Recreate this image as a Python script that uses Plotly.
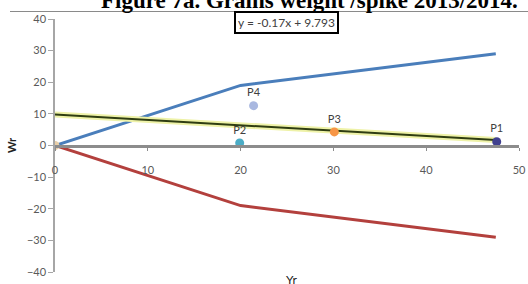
import plotly.graph_objects as go

# Data
blue_x = [0, 20, 47.5]
blue_y = [0, 19, 29]
red_x = [0, 20, 47.5]
red_y = [0, -19, -29]
trend_slope = -0.17
trend_intercept = 9.793
trend_x = [0, 47.5]
point_names = ["P1", "P2", "P3", "P4"]
point_x = [47.6, 19.9, 30.1, 21.4]
point_y = [1.2, 0.8, 4.3, 12.6]
point_colors = ["#40408f", "#4bacc6", "#f79646", "#a9b8e0"]
x_ticks = [0, 10, 20, 30, 40, 50]
y_ticks = [-40, -30, -20, -10, 0, 10, 20, 30, 40]

trend_y = [trend_slope * x + trend_intercept for x in trend_x]

fig = go.Figure()
fig.add_trace(go.Scatter(x=blue_x, y=blue_y, mode="lines",
                         line=dict(color="#4a7ebb", width=3), showlegend=False))
fig.add_trace(go.Scatter(x=red_x, y=red_y, mode="lines",
                         line=dict(color="#b3403d", width=3), showlegend=False))
fig.add_trace(go.Scatter(x=trend_x, y=trend_y, mode="lines",
                         line=dict(color="#eef2a8", width=6), showlegend=False))
fig.add_trace(go.Scatter(x=trend_x, y=trend_y, mode="lines",
                         line=dict(color="#2f3d12", width=2), showlegend=False))
fig.add_trace(go.Scatter(x=[0], y=[0], mode="markers",
                         marker=dict(color="#e9cfa8", size=9), showlegend=False))
fig.add_trace(go.Scatter(x=point_x, y=point_y, mode="markers+text",
                         text=point_names, textposition="top center",
                         textfont=dict(family="Lato", size=11, color="#404040"),
                         marker=dict(color=point_colors, size=9), showlegend=False))

fig.update_layout(
    width=528, height=284,
    margin=dict(l=55, r=9, t=19, b=12, autoexpand=False),
    paper_bgcolor="white", plot_bgcolor="white",
    xaxis=dict(range=[0, 50], tickvals=x_ticks, anchor="free", position=0.5,
               automargin=False,
               showgrid=False, zeroline=False, showline=True,
               linecolor="#8c8c8c", linewidth=3,
               ticks="outside", ticklen=3, tickcolor="#8c8c8c",
               ticklabelstandoff=10,
               tickfont=dict(family="Lato", size=11, color="#595959")),
    yaxis=dict(range=[-40, 40], tickvals=y_ticks, showgrid=False, zeroline=False,
               automargin=False,
               showline=True, linecolor="#a6a6a6", linewidth=1.5,
               ticks="outside", ticklen=5, tickcolor="#a6a6a6",
               tickfont=dict(family="Lato", size=11, color="#595959"),
               title=dict(text="<b>Wr</b>", font=dict(family="Lato", size=11, color="#222"),
                          standoff=8)),
)

fig.add_annotation(text="<b>Figure 7a. Grains weight /spike 2013/2014.</b>",
                   xref="paper", yref="paper", x=(309 - 55) / 464, y=(272 - 15) / 253,
                   xanchor="center", yanchor="bottom", showarrow=False,
                   font=dict(family="Liberation Serif", size=23, color="black"))
fig.add_shape(type="line", xref="paper", yref="paper",
              x0=-45 / 464, x1=1.02, y0=(272 - 11.5) / 253, y1=(272 - 11.5) / 253,
              line=dict(color="#8a8a8a", width=1))
fig.add_annotation(text="y = -0.17x + 9.793", xref="paper", yref="paper",
                   x=(286 - 55) / 464, y=(272 - 22) / 253, xanchor="center", yanchor="middle",
                   showarrow=False, bgcolor="white", bordercolor="black", borderwidth=2,
                   borderpad=2,
                   font=dict(family="Lato", size=12, color="#404040"))
fig.add_annotation(text="Yr", xref="paper", yref="paper",
                   x=(291 - 55) / 464, y=2 / 253, xanchor="center", yanchor="top",
                   showarrow=False, font=dict(family="Lato", size=12, color="#222"))

fig.write_html("out.html", config={"displayModeBar": False},
               post_script="document.body.style.margin='0';document.body.style.overflow='hidden';")
